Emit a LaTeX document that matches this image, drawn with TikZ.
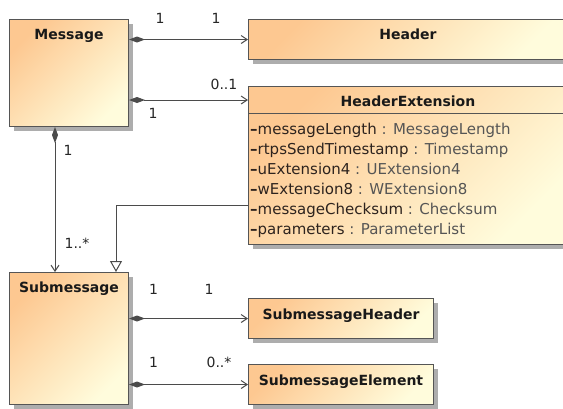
\documentclass[tikz,border=0pt]{standalone}
\usepackage{fontspec}
\setmainfont{DejaVu Sans}
\usetikzlibrary{arrows.meta,shadows,calc}
\definecolor{boxorange}{RGB}{253,200,145}
\definecolor{boxyellow}{RGB}{255,252,220}
\definecolor{edgec}{RGB}{85,85,85}
\definecolor{linec}{RGB}{75,75,75}
\definecolor{typec}{RGB}{85,85,85}
\definecolor{namec}{RGB}{45,35,30}
\begin{document}
\begin{tikzpicture}[x=1pt,y=-1pt,
  umlbox/.style={draw=edgec, line width=1pt, inner sep=0pt, anchor=north west,
    top color=boxorange, bottom color=boxyellow, shading angle=45,
    drop shadow={shadow xshift=4pt, shadow yshift=-4pt, fill=black!32, opacity=1}},
  compart/.style={draw=edgec, line width=1pt, inner sep=0pt, anchor=north west},
  titletext/.style={font=\fontsize{14}{16}\selectfont\bfseries, text=black!90, anchor=base, inner sep=0pt},
  attrtext/.style={font=\fontsize{15}{18}\selectfont, text=namec, anchor=base west, inner sep=0pt},
  multtext/.style={font=\fontsize{14}{16}\selectfont, text=black!85, inner sep=0pt},
  comp/.style={draw=linec, line width=1pt,
    {Diamond[length=16pt,width=6pt,fill=linec]}-{Straight Barb[length=6pt,width=8pt]}},
  gen/.style={draw=linec, line width=1pt, -{Triangle[open,length=11pt,width=12pt,fill=white]}}
]
\clip (0,0) rectangle (563,408);
\fill[white] (0,0) rectangle (563,408);

% boxes
\node[umlbox, minimum width=119pt, minimum height=107pt] (msg) at (9,19) {};
\node[umlbox, minimum width=319pt, minimum height=40pt] (hdr) at (248,19) {};
\node[umlbox, minimum width=319pt, minimum height=158pt] (hext) at (248,86) {};
\node[compart, minimum width=319pt, minimum height=27pt] (hextt) at (hext.north west) {};
\node[umlbox, minimum width=119pt, minimum height=132pt] (sub) at (9,272) {};
\node[umlbox, minimum width=185pt, minimum height=40pt] (sh) at (248,298) {};
\node[umlbox, minimum width=185pt, minimum height=40pt] (se) at (248,364) {};

% titles
\node[titletext] (msgt) at ($(msg.north)+(0,20)$) {Message};
\node[titletext] (hdrt) at ($(hdr.north)+(0,20.5)$) {Header};
\node[titletext] (hextn) at ($(hext.north)+(0,20.5)$) {HeaderExtension};
\node[titletext] (subt) at ($(sub.north)+(0,20)$) {Submessage};
\node[titletext] (sht) at ($(sh.north)+(0,21)$) {SubmessageHeader};
\node[titletext] (set) at ($(se.north)+(0,21)$) {SubmessageElement};

% attributes
\node[attrtext] (a1) at ($(hext.north west)+(2,48.3)$) {\textbf{–}messageLength {\color{typec}: MessageLength}};
\node[attrtext] (a2) at ($(hext.north west)+(2,68.3)$) {\textbf{–}rtpsSendTimestamp {\color{typec}: Timestamp}};
\node[attrtext] (a3) at ($(hext.north west)+(2,88.3)$) {\textbf{–}uExtension4 {\color{typec}: UExtension4}};
\node[attrtext] (a4) at ($(hext.north west)+(2,108.3)$) {\textbf{–}wExtension8 {\color{typec}: WExtension8}};
\node[attrtext] (a5) at ($(hext.north west)+(2,128.3)$) {\textbf{–}messageChecksum {\color{typec}: Checksum}};
\node[attrtext] (a6) at ($(hext.north west)+(2,148.3)$) {\textbf{–}parameters {\color{typec}: ParameterList}};

% connectors
\draw[comp] (hdr.west -| msg.east) -- (hdr.west);
\draw[comp] (hextt.west -| msg.east) -- (hextt.west);
\coordinate (vx) at (55,0);
\draw[comp] (msg.south -| vx) -- (sub.north -| vx);
\coordinate (genbend) at (116,205.5);
\draw[gen] (genbend -| hext.west) -- (genbend) -- (genbend |- sub.north);
\draw[comp] (sh.west -| sub.east) -- (sh.west);
\draw[comp] (se.west -| sub.east) -- (se.west);

% multiplicities
\node[multtext] (m1) at (160,18) {1};
\node[multtext] (m2) at (216,18) {1};
\node[multtext] (m3) at (224,84) {0..1};
\node[multtext] (m4) at (153,113) {1};
\node[multtext] (m5) at (68,150) {1};
\node[multtext] (m6) at (77,243) {1..*};
\node[multtext] (m7) at (153.5,289) {1};
\node[multtext] (m8) at (209,289) {1};
\node[multtext] (m9) at (153.5,362) {1};
\node[multtext] (m10) at (219,362) {0..*};
\end{tikzpicture}
\end{document}
